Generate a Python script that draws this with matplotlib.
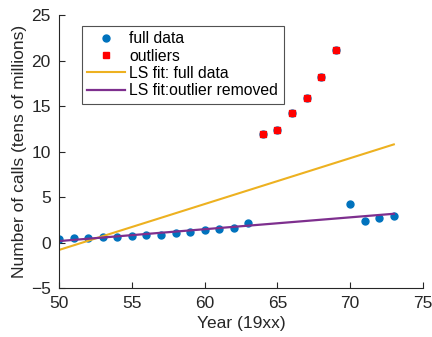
import numpy as np
import matplotlib.pyplot as plt

plt.rcParams['font.family'] = ['Liberation Sans', 'DejaVu Sans']

# Belgian phone calls (tens of millions)
years = np.arange(50, 74)
calls = [0.44, 0.47, 0.47, 0.59, 0.66, 0.73, 0.81, 0.88, 1.06, 1.20, 1.35, 1.49,
         1.61, 2.12, 11.90, 12.40, 14.20, 15.90, 18.20, 21.20, 4.30, 2.40, 2.70, 2.90]
outlier_years = [64, 65, 66, 67, 68, 69]

years = np.array(years)
calls = np.array(calls)
mask = np.isin(years, outlier_years)

# least squares fits
p_full = np.polyfit(years, calls, 1)
p_clean = np.polyfit(years[~mask], calls[~mask], 1)

fig = plt.figure(figsize=(4.32, 3.37), dpi=100)
ax = fig.add_axes([0.137, 0.145, 0.842, 0.81])

ax.plot(years, calls, 'o', color='#0072BD', markersize=5, label='full data')
ax.plot(years[mask], calls[mask], 's', color='red', markersize=5, label='outliers')
ax.plot(years, np.polyval(p_full, years), color='#EDB120', lw=1.5, label='LS fit: full data')
ax.plot(years, np.polyval(p_clean, years), color='#7E2F8E', lw=1.6, label='LS fit:outlier removed')

ax.set_xlim(50, 75)
ax.set_ylim(-5, 25)
ax.set_xticks([50, 55, 60, 65, 70, 75])
ax.set_yticks([-5, 0, 5, 10, 15, 20, 25])
ax.spines['top'].set_visible(False)
ax.spines['right'].set_visible(False)
for s in ['left', 'bottom']:
    ax.spines[s].set_color('#262626')
ax.tick_params(direction='in', labelsize=12.5, colors='#262626', length=4, pad=6)
ax.set_xlabel('Year (19xx)', fontsize=12.5, color='#262626', labelpad=3)
ax.set_ylabel('Number of calls (tens of millions)', fontsize=12.5, color='#262626', labelpad=3)

leg = ax.legend(loc='upper left', bbox_to_anchor=(0.04, 0.99), fontsize=11.3,
                frameon=True, fancybox=False, edgecolor='#262626',
                handlelength=2.4, borderpad=0.35, labelspacing=0.15, handletextpad=0.3)
leg.get_frame().set_linewidth(0.8)

plt.savefig('out.png')
